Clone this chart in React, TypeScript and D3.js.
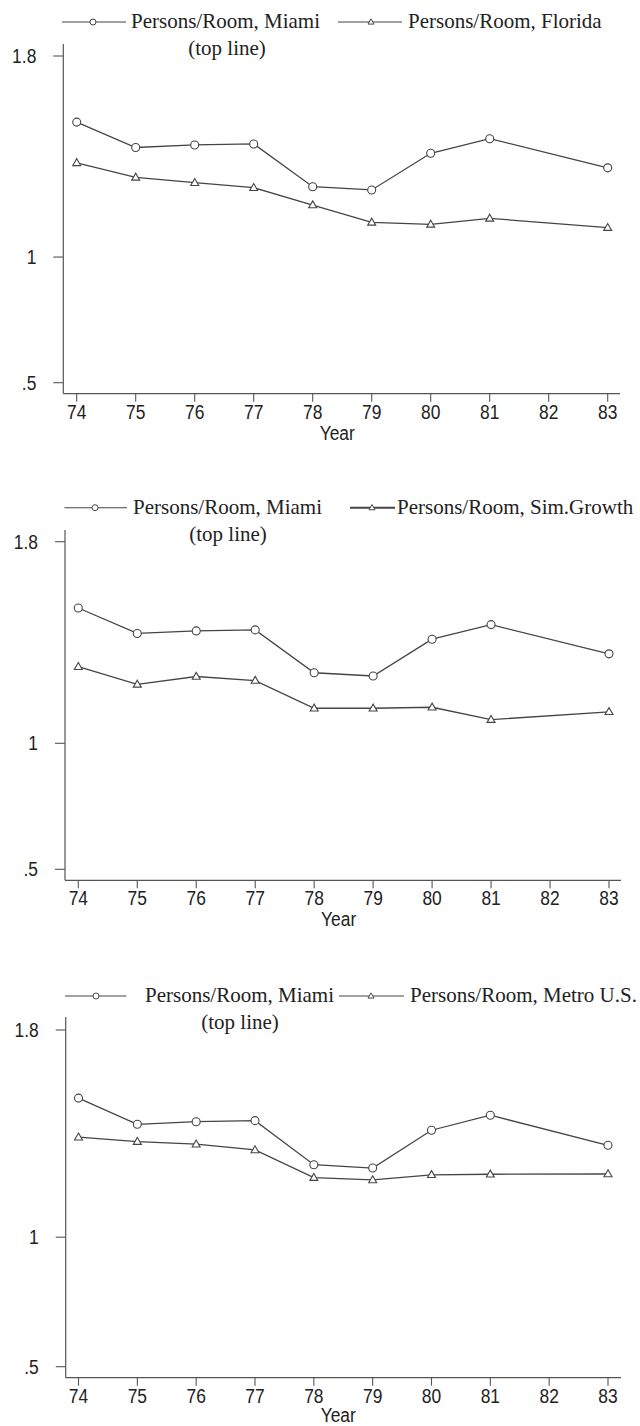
import React from "react";
import * as d3 from "d3";

const years = [74, 75, 76, 77, 78, 79, 80, 81, 83];
const miami = [1.537, 1.436, 1.446, 1.45, 1.28, 1.267, 1.413, 1.471, 1.355];
const florida = [1.375, 1.317, 1.296, 1.276, 1.207, 1.138, 1.13, 1.154, 1.117];
const simGrowth = [1.304, 1.234, 1.265, 1.249, 1.139, 1.139, 1.143, 1.094, 1.125];
const metroUS = [1.386, 1.369, 1.359, 1.337, 1.23, 1.221, 1.241, 1.243, 1.244];
const xTicks = [74, 75, 76, 77, 78, 79, 80, 81, 82, 83];
const yTicks = [0.5, 1, 1.8];
const yTickLabels = [".5", "1", "1.8"];
const legendMiami = "Persons/Room, Miami";
const legendSub = "(top line)";
const legendOthers = ["Persons/Room, Florida", "Persons/Room, Sim.Growth", "Persons/Room, Metro U.S."];
const xTitle = "Year";
const seconds = [florida, simGrowth, metroUS];

// layout per panel
const panels = [
  { yTop: 56, yBot: 382.7, axisX: 63.3, x0: 76.7, x1: 607.7, axisTop: 44, axisRight: 620,
    l1: [62, 126, 93, 131], l2: [338, 402, 371, 408], subX: 227, l2w: 1.1, titleDy: 46 },
  { yTop: 541.7, yBot: 869.3, axisX: 65, x0: 78.3, x1: 609, axisTop: 530, axisRight: 621,
    l1: [64.5, 127, 95, 133], l2: [350, 395, 372, 397], subX: 228, l2w: 2, titleDy: 46 },
  { yTop: 1030, yBot: 1366.7, axisX: 65.7, x0: 78.5, x1: 608, axisTop: 1017, axisRight: 621,
    l1: [65, 126.5, 96, 145], l2: [339, 404, 371, 410], subX: 240, l2w: 1.1, titleDy: 44 },
];

const INK = "#454545";
const AX = "#555";
const SERIF = "'Liberation Serif', 'Times New Roman', serif";
const SANS = "'Liberation Sans', Arial, sans-serif";

function tri(cx: number, cy: number, s: number) {
  const h = s * 0.866;
  return `M${cx},${cy - h * 0.6}L${cx + s / 2},${cy + h * 0.4}L${cx - s / 2},${cy + h * 0.4}Z`;
}

function NarrowText({ x, y, anchor, children }: any) {
  return (
    <text
      transform={`translate(${x},${y}) scale(0.87,1)`}
      textAnchor={anchor}
      fontFamily={SANS}
      fontSize={20}
      fill="#222"
    >
      {children}
    </text>
  );
}

function Panel({ p, second, label }: any) {
  const y = d3.scaleLinear().domain([0.5, 1.8]).range([p.yBot, p.yTop]);
  const x = d3.scaleLinear().domain([74, 83]).range([p.x0, p.x1]);
  const line = d3
    .line<number>()
    .x((_, i) => x(years[i]))
    .y((d) => y(d));
  const axisBot = p.yBot + 11;
  const legY = p.yTop - 34;
  return (
    <g>
      {/* legend */}
      <line x1={p.l1[0]} x2={p.l1[1]} y1={legY} y2={legY} stroke={INK} strokeWidth={1.1} />
      <circle cx={p.l1[2]} cy={legY} r={3} fill="white" stroke={INK} strokeWidth={1} />
      <text x={p.l1[3]} y={legY + 6} fontFamily={SERIF} fontSize={21} fill="#222">
        {legendMiami}
      </text>
      <text x={p.subX} y={legY + 33} fontFamily={SERIF} fontSize={21} fill="#222" textAnchor="middle">
        {legendSub}
      </text>
      <line x1={p.l2[0]} x2={p.l2[1]} y1={legY} y2={legY} stroke={INK} strokeWidth={p.l2w} />
      <path d={tri(p.l2[2], legY, 6)} fill="white" stroke={INK} strokeWidth={1} />
      <text x={p.l2[3]} y={legY + 6} fontFamily={SERIF} fontSize={21} fill="#222">
        {label}
      </text>

      {/* axes */}
      <line x1={p.axisX} x2={p.axisX} y1={p.axisTop} y2={axisBot} stroke={AX} strokeWidth={1.2} />
      <line x1={p.axisX} x2={p.axisRight} y1={axisBot} y2={axisBot} stroke={AX} strokeWidth={1.2} />
      {yTicks.map((t, i) => (
        <g key={t}>
          <line x1={p.axisX - 10} x2={p.axisX} y1={y(t)} y2={y(t)} stroke={AX} strokeWidth={1.1} />
          <NarrowText x={p.axisX - 27} y={y(t) + 7} anchor="end">
            {yTickLabels[i]}
          </NarrowText>
        </g>
      ))}
      {xTicks.map((t) => (
        <g key={t}>
          <line x1={x(t)} x2={x(t)} y1={axisBot} y2={axisBot + 8} stroke={AX} strokeWidth={1.1} />
          <NarrowText x={x(t)} y={axisBot + 25} anchor="middle">
            {t}
          </NarrowText>
        </g>
      ))}
      <NarrowText x={(p.x0 + p.x1) / 2 - 5} y={axisBot + p.titleDy} anchor="middle">
        {xTitle}
      </NarrowText>

      {/* series */}
      <path d={line(miami) || ""} fill="none" stroke={INK} strokeWidth={1.3} />
      <path d={line(second) || ""} fill="none" stroke={INK} strokeWidth={1.3} />
      {miami.map((v, i) => (
        <circle key={"m" + i} cx={x(years[i])} cy={y(v)} r={4} fill="white" stroke={INK} strokeWidth={1.1} />
      ))}
      {second.map((v: number, i: number) => (
        <path key={"s" + i} d={tri(x(years[i]), y(v), 8)} fill="white" stroke={INK} strokeWidth={1.1} />
      ))}
    </g>
  );
}

export default function App() {
  return (
    <svg
      width={640}
      height={1426}
      style={{ position: "absolute", left: 0, top: 0, background: "white" }}
    >
      <rect width={640} height={1426} fill="white" />
      {panels.map((p, i) => (
        <Panel key={i} p={p} second={seconds[i]} label={legendOthers[i]} />
      ))}
    </svg>
  );
}
